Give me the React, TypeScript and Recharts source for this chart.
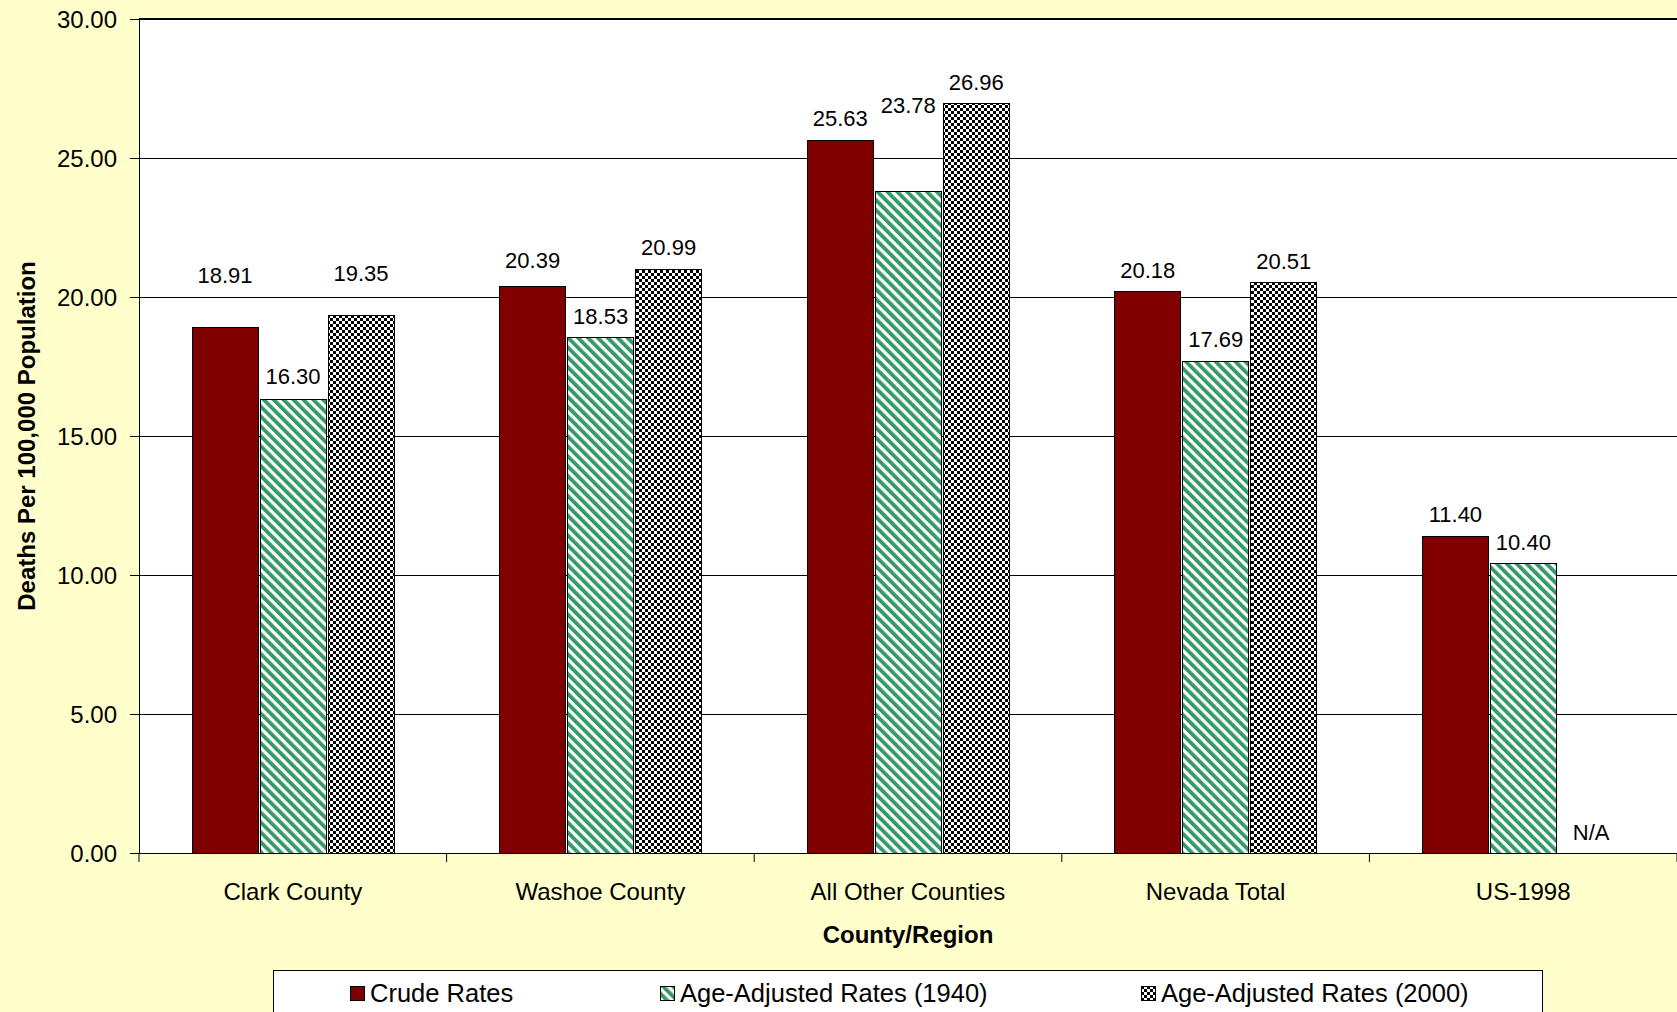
import React from 'react';
import { BarChart, Bar, XAxis, YAxis, CartesianGrid, ReferenceLine } from 'recharts';

const categories = ['Clark County', 'Washoe County', 'All Other Counties', 'Nevada Total', 'US-1998'];
const crudeRates = [18.91, 20.39, 25.63, 20.18, 11.4];
const ageAdjusted1940 = [16.3, 18.53, 23.78, 17.69, 10.4];
const ageAdjusted2000: (number | null)[] = [19.35, 20.99, 26.96, 20.51, null];
const yTicks = [0, 5, 10, 15, 20, 25, 30];

// extra lift (px) for the labels that were dragged higher in the original
const labelLift = {
  crude: [30, 4, 0, 0, 0],
  adj1940: [2, 0, 65, 0, 0],
  adj2000: [20, 0, 0, 0, 0],
};

const data = categories.map((name, i) => ({
  name,
  crude: crudeRates[i],
  adj1940: ageAdjusted1940[i],
  adj2000: ageAdjusted2000[i],
}));

const W = 1677;
const H = 1012;
const LEFT = 139;
const TOP = 19;
const XAXIS_H = 159;
const BAR_SIZE = 66;
const BAR_GAP = 2;
const BAND = (W - LEFT) / categories.length;
const FONT = '"Liberation Sans", Arial, sans-serif';

const makeLabel = (lifts: number[]) => (props: any) => {
  const { x, y, width, value, index } = props;
  if (value == null) return null;
  const cx = Number(x) + Number(width) / 2;
  return (
    <text x={cx} y={Number(y) - 14 - (lifts[index] || 0)} textAnchor="middle" fontSize={22} fontFamily={FONT} fill="#000">
      {Number(value).toFixed(2)}
    </text>
  );
};

const CategoryTick = (props: any) => {
  const { x, y, payload, index } = props;
  return (
    <g>
      <line x1={x - BAND / 2} y1={y} x2={x - BAND / 2} y2={y + 9} stroke="#000" strokeWidth={1} />
      {index === categories.length - 1 && (
        <line x1={x + BAND / 2} y1={y} x2={x + BAND / 2} y2={y + 9} stroke="#000" strokeWidth={1} />
      )}
      {/* missing 2000 rate: N/A where the third bar would stand */}
      {ageAdjusted2000[index] == null && (
        <text x={x + BAR_SIZE + BAR_GAP} y={y - 13} textAnchor="middle" fontSize={22} fontFamily={FONT} fill="#000">
          N/A
        </text>
      )}
      <text x={x} y={y + 47} textAnchor="middle" fontSize={24} fontFamily={FONT} fill="#000">
        {payload.value}
      </text>
    </g>
  );
};

const PatternDefs = ({ prefix }: { prefix: string }) => (
  <defs>
    <pattern id={`${prefix}-stripe`} width="7" height="7" patternUnits="userSpaceOnUse" patternTransform="rotate(-45)">
      <rect x="0" y="0" width="7" height="7" fill="#fff" />
      <rect x="0" y="0" width="3.8" height="7" fill="#339966" />
    </pattern>
    <pattern id={`${prefix}-check`} width="6" height="6" patternUnits="userSpaceOnUse">
      <rect x="0" y="0" width="6" height="6" fill="#fff" />
      <rect x="0" y="0" width="3" height="3" fill="#000" />
      <rect x="3" y="3" width="3" height="3" fill="#000" />
    </pattern>
  </defs>
);

const legendItems = [
  { label: 'Crude Rates', fill: '#800000', left: 349 },
  { label: 'Age-Adjusted Rates (1940)', fill: 'url(#lg-stripe)', left: 659 },
  { label: 'Age-Adjusted Rates (2000)', fill: 'url(#lg-check)', left: 1140 },
];

export default function App() {
  return (
    <div style={{ position: 'absolute', left: 0, top: 0, width: W, height: H, background: '#FFFFCC', overflow: 'hidden', fontFamily: FONT }}>
      <style>{`
        .recharts-cartesian-grid line,
        .recharts-cartesian-axis-line,
        .recharts-cartesian-axis-tick-line,
        .recharts-reference-line-line,
        .recharts-rectangle { shape-rendering: crispEdges; }
      `}</style>
      <BarChart
        width={W}
        height={H}
        data={data}
        margin={{ top: TOP, right: 0, left: 0, bottom: 0 }}
        barSize={BAR_SIZE}
        barGap={BAR_GAP}
      >
        <PatternDefs prefix="ch" />
        <CartesianGrid vertical={false} stroke="#000" strokeWidth={1} fill="#fff" fillOpacity={1} />
        <ReferenceLine y={30} stroke="#000" strokeWidth={2} />
        <XAxis
          dataKey="name"
          height={XAXIS_H}
          axisLine={{ stroke: '#000', strokeWidth: 1 }}
          tickLine={false}
          tickSize={0}
          tickMargin={0}
          interval={0}
          tick={<CategoryTick />}
          label={(p: any) => {
            const vb = p.viewBox;
            return (
              <text x={vb.x + vb.width / 2} y={vb.y + 90} textAnchor="middle" fontSize={24} fontWeight="bold" fontFamily={FONT} fill="#000">
                County/Region
              </text>
            );
          }}
        />
        <YAxis
          width={LEFT}
          domain={[0, 30]}
          ticks={yTicks}
          interval={0}
          tickFormatter={(v: number) => v.toFixed(2)}
          axisLine={{ stroke: '#000', strokeWidth: 1 }}
          tickLine={{ stroke: '#000' }}
          tickSize={9}
          tickMargin={13}
          tick={{ fill: '#000', fontSize: 24, fontFamily: FONT }}
          label={(p: any) => {
            const vb = p.viewBox;
            const cy = vb.y + vb.height / 2;
            return (
              <text x={26} y={cy} transform={`rotate(-90, 26, ${cy})`} textAnchor="middle" dominantBaseline="central" fontSize={24} fontWeight="bold" fontFamily={FONT} fill="#000">
                Deaths Per 100,000 Population
              </text>
            );
          }}
        />
        <Bar dataKey="crude" fill="#800000" stroke="#000" strokeWidth={1} isAnimationActive={false} label={makeLabel(labelLift.crude)} />
        <Bar dataKey="adj1940" fill="url(#ch-stripe)" stroke="#000" strokeWidth={1} isAnimationActive={false} label={makeLabel(labelLift.adj1940)} />
        <Bar dataKey="adj2000" fill="url(#ch-check)" stroke="#000" strokeWidth={1} isAnimationActive={false} label={makeLabel(labelLift.adj2000)} />
      </BarChart>

      {/* legend box, cut off by the bottom edge like the original */}
      <div style={{ position: 'absolute', left: 273, top: 970, width: 1270, height: 60, background: '#fff', border: '1px solid #000', boxSizing: 'border-box' }}>
        <svg width={0} height={0} style={{ position: 'absolute' }}>
          <PatternDefs prefix="lg" />
        </svg>
        {legendItems.map((item) => (
          <div key={item.label} style={{ position: 'absolute', left: item.left - 273, top: 7, display: 'flex', alignItems: 'center', height: 30 }}>
            <svg width={15} height={15} style={{ marginRight: 5 }}>
              <rect x={0.5} y={0.5} width={14} height={14} fill={item.fill} stroke="#000" strokeWidth={1} />
            </svg>
            <span style={{ fontSize: 25.5, color: '#000', whiteSpace: 'nowrap' }}>{item.label}</span>
          </div>
        ))}
      </div>
    </div>
  );
}
